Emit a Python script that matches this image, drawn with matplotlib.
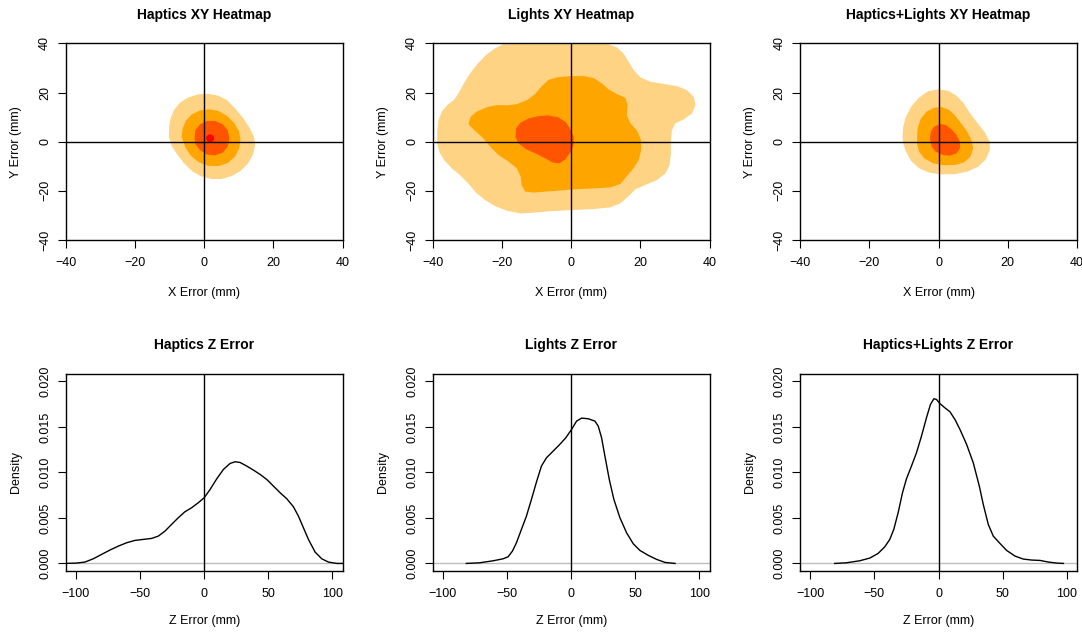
import matplotlib
matplotlib.use("Agg")
import matplotlib.pyplot as plt

plt.rcParams['font.family'] = ['Liberation Sans', 'DejaVu Sans']

# contour bands (x, y in mm), outer -> inner
hap_lvl1 = [(-10.2, 2.0), (-10.1, 6.1), (-9.7, 9.5), (-8.7, 12.9), (-7.0, 15.9), (-4.6, 18.0),
            (-1.7, 19.3), (1.2, 19.5), (4.1, 18.7), (6.5, 17.0), (8.9, 13.6), (11.3, 9.5),
            (13.2, 5.4), (14.4, 2.0), (14.7, -1.4), (14.2, -5.0), (12.7, -8.8), (10.5, -11.9),
            (7.9, -14.0), (5.0, -15.2), (2.2, -15.2), (-0.7, -14.2), (-3.3, -12.2), (-5.8, -8.8),
            (-7.9, -5.0), (-9.4, -1.6)]
hap_lvl2 = [(-6.5, 2.0), (-6.2, 5.4), (-5.3, 8.5), (-3.6, 11.1), (-1.2, 12.7), (1.5, 13.2),
            (4.1, 12.5), (6.5, 10.6), (8.6, 7.7), (10.0, 4.5), (10.5, 0.9), (10.1, -2.7),
            (8.9, -6.1), (6.8, -8.7), (4.1, -9.9), (1.2, -9.8), (-1.5, -8.4), (-3.8, -5.8),
            (-5.4, -2.4)]
hap_lvl3 = [(-2.8, 1.4), (-2.5, 4.7), (-1.2, 7.1), (0.7, 8.4), (3.1, 8.5), (5.3, 7.1), (6.8, 4.7),
            (7.3, 1.4), (6.8, -2.0), (5.3, -4.5), (3.1, -5.6), (0.7, -5.2), (-1.2, -3.4),
            (-2.5, -1.1)]
hap_lvl4 = [(2.9, 1.4), (2.74, 2.2), (2.3, 2.79), (1.7, 3.0), (1.1, 2.79), (0.66, 2.2), (0.5, 1.4),
            (0.66, 0.6), (1.1, 0.01), (1.7, -0.2), (2.3, 0.01), (2.74, 0.6)]

lig_lvl1 = [(-38.7, -0.7), (-38.7, 4.1), (-38.3, 8.8), (-37.4, 12.2), (-35.8, 14.9), (-33.7, 17.2),
            (-32.3, 20.3), (-30.9, 24.0), (-29.2, 27.8), (-27.1, 31.6), (-24.6, 35.3), (-22.0, 38.0),
            (-19.6, 39.7), (-15, 42), (-5, 43.5), (5, 43), (10, 41), (10.8, 39.7), (13.2, 38.4),
            (15.1, 35.9), (16.6, 32.5), (18.0, 29.2), (20.0, 26.2), (22.8, 24.4), (26.7, 23.5),
            (30.6, 22.6), (33.4, 21.0), (35.4, 18.3), (35.9, 14.9), (34.9, 11.5), (32.5, 9.1),
            (30.1, 7.5), (29.1, 4.7), (28.8, 0.7), (28.8, -4.7), (28.4, -9.5), (27.2, -12.9),
            (24.8, -15.6), (21.4, -17.6), (18.5, -19.4), (16.6, -22.1), (14.2, -25.1),
            (11.3, -26.7), (6.5, -27.4), (0.7, -27.8), (-5.1, -28.2), (-10.9, -28.9),
            (-14.7, -29.2), (-18.6, -28.1), (-22, -26.2), (-24.9, -23.7), (-27.5, -20.7),
            (-29.7, -17.0), (-32.1, -13.6), (-34.5, -10.8), (-36.7, -7.5), (-38.1, -4.1)]
lig_lvl2 = [(-29.7, 7.2), (-29.0, 10.2), (-27.3, 12.2), (-24.4, 14.0), (-21.5, 14.9), (-18.6, 14.8),
            (-15.7, 15.3), (-12.8, 16.9), (-10.4, 19.4), (-8.5, 22.6), (-6.6, 25.1), (-4.1, 26.2),
            (-0.3, 26.7), (3.6, 26.7), (6.5, 25.9), (8.9, 23.7), (10.8, 21.3), (13.2, 19.4),
            (15.6, 17.9), (16.3, 14.9), (16.1, 10.8), (17.1, 7.5), (19.0, 4.5), (20.2, 0.7),
            (20.2, -3.4), (19.5, -7.5), (18.0, -10.8), (16.1, -14.0), (14.2, -17.2), (11.3, -18.6),
            (6.5, -19.0), (0.7, -19.4), (-5.1, -20.1), (-10.9, -20.7), (-13.3, -20.3),
            (-14.3, -17.6), (-14.6, -14.2), (-15.7, -10.8), (-18.1, -8.1), (-21.0, -5.4),
            (-23.4, -2.0), (-25.8, 2.0), (-28.2, 5.0)]
lig_lvl3 = [(-16.1, 2.0), (-15.9, 5.4), (-14.7, 7.7), (-12.3, 9.5), (-9.4, 10.4), (-6.6, 10.7),
            (-3.7, 9.9), (-1.7, 8.1), (-0.3, 5.4), (0.7, 2.0), (0.7, -1.4), (-0.3, -4.5),
            (-1.7, -7.2), (-3.4, -8.8), (-5.3, -8.5), (-7.5, -6.8), (-10.4, -4.7), (-13.1, -3.0),
            (-15.2, -0.7)]

hl_lvl1 = [(-10.4, 2.0), (-10.2, 6.1), (-9.4, 10.2), (-7.8, 14.5), (-5.6, 18.0), (-3.0, 20.5),
           (-0.1, 21.3), (2.8, 20.7), (5.2, 18.7), (7.1, 15.9), (9.0, 11.8), (11.2, 7.7),
           (13.4, 3.7), (14.8, 0.0), (14.8, -3.4), (13.7, -7.1), (11.4, -10.2), (8.3, -12.2),
           (4.7, -13.2), (0.9, -13.3), (-2.7, -12.6), (-5.6, -10.8), (-8.0, -7.7), (-9.5, -3.7),
           (-10.2, -0.7)]
hl_lvl2 = [(-6.2, 2.0), (-6.0, 5.8), (-5.1, 9.4), (-3.5, 12.2), (-1.3, 13.8), (0.9, 14.1),
           (3.1, 12.9), (4.7, 10.8), (6.3, 7.9), (8.1, 4.5), (9.5, 0.7), (10.0, -2.7), (9.2, -6.1),
           (7.4, -8.4), (4.7, -9.5), (1.5, -9.6), (-1.5, -8.8), (-4.1, -6.8), (-5.6, -4.1),
           (-6.2, -0.9)]
hl_lvl3 = [(-2.5, 1.4), (-2.2, 4.1), (-1.3, 6.1), (0.4, 7.2), (2.1, 6.8), (3.8, 5.0), (5.2, 2.7),
           (6.2, 0.0), (6.2, -2.7), (5.2, -4.7), (3.3, -5.7), (1.2, -5.4), (-0.8, -4.1),
           (-2.0, -2.0)]

# Z error density curves
hap_z = [-108.6, -99.5, -93.0, -86.5, -80.0, -73.5, -67.0, -60.5, -54.0, -47.5, -41.0, -35.8,
         -30.6, -25.4, -20.2, -15.0, -9.8, -4.6, 0, 4.6, 9.8, 15.0, 20.2, 24.1, 27.9, 33.2, 38.4,
         43.6, 48.8, 54.0, 59.2, 64.4, 69.6, 73.5, 77.4, 81.3, 86.5, 91.7, 96.9, 103.4, 108.6]
hap_d = [0, 0.00004, 0.00015, 0.00051, 0.00099, 0.00147, 0.0019, 0.00227, 0.00253, 0.00264,
         0.00275, 0.003, 0.00355, 0.00429, 0.00502, 0.00568, 0.00612, 0.00667, 0.00722, 0.00813,
         0.0093, 0.01033, 0.01099, 0.01117, 0.0111, 0.0107, 0.01026, 0.00978, 0.00923, 0.0085,
         0.00777, 0.00711, 0.00623, 0.0052, 0.00392, 0.00264, 0.00125, 0.00051, 0.00015, 0, 0]
lig_z = [-81.8, -71.4, -60.9, -53.1, -49.2, -45.8, -42.7, -38.8, -34.9, -31.0, -27.1, -23.2,
         -19.3, -14.1, -8.9, -4.2, 0.3, 4.2, 8.1, 13.3, 18.5, 21.1, 23.7, 26.3, 29.7, 33.3, 38.0,
         43.2, 48.4, 53.6, 60.2, 66.7, 73.2, 81.0]
lig_d = [0, 0.00007, 0.00029, 0.00051, 0.00073, 0.00136, 0.00227, 0.00374, 0.0052, 0.00703,
         0.00894, 0.0107, 0.01161, 0.01234, 0.01308, 0.01381, 0.01473, 0.01564, 0.01597, 0.0159,
         0.01564, 0.01509, 0.01381, 0.0118, 0.00923, 0.00703, 0.00502, 0.00337, 0.00216,
         0.00143, 0.00088, 0.00044, 0.00011, 0]
hl_z = [-81.0, -71.9, -61.5, -53.6, -47.1, -41.9, -38.0, -34.9, -31.5, -28.1, -25.0, -21.1,
        -17.2, -13.3, -9.4, -6.3, -3.6, -1.6, 1.0, 4.9, 8.9, 12.8, 16.7, 21.9, 27.1, 31.8, 34.9,
        38.8, 42.7, 47.9, 53.1, 59.6, 66.1, 72.7, 79.2, 85.7, 92.2, 97.4]
hl_d = [0, 0.00007, 0.00029, 0.00059, 0.0011, 0.00183, 0.00264, 0.00374, 0.00557, 0.00777,
        0.0093, 0.0107, 0.01216, 0.01399, 0.01601, 0.01747, 0.0181, 0.01802, 0.01758, 0.01711,
        0.01667, 0.01582, 0.01473, 0.01308, 0.01106, 0.0085, 0.00648, 0.00429, 0.003, 0.0022,
        0.00143, 0.00081, 0.00048, 0.00037, 0.00033, 0.00015, 0.00004, 0]

level_colors = ['#FED383', '#FFA500', '#FF5500', '#FF0000']

heatmaps = [("Haptics XY Heatmap", [hap_lvl1, hap_lvl2, hap_lvl3, hap_lvl4]),
            ("Lights XY Heatmap", [lig_lvl1, lig_lvl2, lig_lvl3]),
            ("Haptics+Lights XY Heatmap", [hl_lvl1, hl_lvl2, hl_lvl3])]
densities = [("Haptics Z Error", hap_z, hap_d),
             ("Lights Z Error", lig_z, lig_d),
             ("Haptics+Lights Z Error", hl_z, hl_d)]

fig = plt.figure(figsize=(10.82, 6.33), dpi=100)
lefts = [0.0607, 0.3999, 0.7394]
w = 0.256
h = 0.3105


def style(ax, xlab_y):
    ax.tick_params(direction='out', length=5.5, width=0.8, labelsize=9, pad=7, color='black')
    ax.tick_params(axis='y', labelrotation=90, pad=5)
    for lab in ax.get_yticklabels():
        lab.set_va('center')
    for s in ax.spines.values():
        s.set_linewidth(1.0)
    ax.xaxis.set_label_coords(0.5, xlab_y)
    ax.yaxis.set_label_coords(-0.158, 0.5)


for i, (title, levels) in enumerate(heatmaps):
    ax = fig.add_axes([lefts[i], 0.6209, w, h])
    for poly, col in zip(levels, level_colors):
        xs = [p[0] for p in poly]
        ys = [p[1] for p in poly]
        ax.fill(xs, ys, color=col, lw=0)
    ax.axhline(0, color='black', lw=1)
    ax.axvline(0, color='black', lw=1)
    ax.set_xlim(-40, 40)
    ax.set_ylim(-40, 40)
    ax.set_xticks([-40, -20, 0, 20, 40])
    ax.set_yticks([-40, -20, 0, 20, 40])
    ax.set_xlabel("X Error (mm)", fontsize=9)
    ax.set_ylabel("Y Error (mm)", fontsize=9)
    ax.text(0.5, 1 + 28 / 197, title, transform=ax.transAxes, ha='center', va='center',
            fontsize=10, fontweight='bold')
    style(ax, -0.239)

for i, (title, z, d) in enumerate(densities):
    ax = fig.add_axes([lefts[i], 0.0984, w, h])
    ax.axhline(0, color='#BEBEBE', lw=1)
    ax.axvline(0, color='black', lw=1)
    ax.plot(z, d, color='black', lw=1)
    ax.set_xlim(-108, 108)
    ax.set_ylim(-0.0008, 0.0208)
    ax.set_xticks([-100, -50, 0, 50, 100])
    ax.set_yticks([0, 0.005, 0.010, 0.015, 0.020])
    ax.set_yticklabels(['0.000', '0.005', '0.010', '0.015', '0.020'])
    ax.set_xlabel("Z Error (mm)", fontsize=9)
    ax.set_ylabel("Density", fontsize=9)
    ax.text(0.5, 1 + 29 / 197, title, transform=ax.transAxes, ha='center', va='center',
            fontsize=10, fontweight='bold')
    style(ax, -0.223)

fig.savefig("out.png", dpi=100)
